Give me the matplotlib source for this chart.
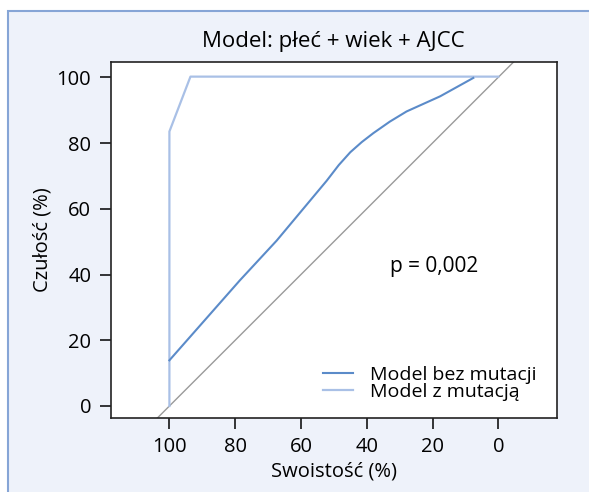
import matplotlib.pyplot as plt
from matplotlib.patches import Rectangle

plt.rcParams['font.family'] = ['Open Sans', 'DejaVu Sans']

# Krzywe ROC (swoistość %, czułość %)
swoistosc_bez = [100, 78.6, 67.4, 52.2, 48.5, 45.0, 41.5, 38.0, 33.0, 27.9, 17.7, 7.6]
czulosc_bez = [13.9, 38.2, 50.3, 68.5, 73.3, 77.2, 80.3, 83.0, 86.5, 89.6, 94.2, 99.8]

swoistosc_z = [100, 100, 93.6, 0]
czulosc_z = [0, 83.5, 100.2, 100.2]

xticks = [100, 80, 60, 40, 20, 0]
yticks = [0, 20, 40, 60, 80, 100]

kolor_bez = '#5b8bc9'
kolor_z = '#a9c0e6'

fig = plt.figure(figsize=(5.89, 4.92), dpi=100)
fig.patch.set_facecolor('white')

# ramka tła
tlo = Rectangle((7.5 / 589, -0.1), 2, (492 - 11) / 492 + 0.1,
                transform=fig.transFigure, facecolor='#eef2fa',
                edgecolor='#86a5d6', linewidth=1.5, zorder=-10)
fig.patches.append(tlo)

ax = fig.add_axes([110.7 / 589, (492 - 417.7) / 492, 446 / 589, 355.7 / 492])
ax.set_facecolor('white')

diag = [-30, 130]
ax.plot(diag, [100 - d for d in diag], color='#9a9a9a', lw=1.0, zorder=1)
ax.plot(swoistosc_z, czulosc_z, color=kolor_z, lw=1.6, label='Model z mutacją', zorder=2)
ax.plot(swoistosc_bez, czulosc_bez, color=kolor_bez, lw=1.5, label='Model bez mutacji', zorder=3)

ax.set_xlim(117.85, -17.76)
ax.set_ylim(-3.56, 104.65)
ax.set_xticks(xticks)
ax.set_yticks(yticks)
ax.tick_params(labelsize=14.5, length=8, width=1.1, pad=6, colors='black')

for s in ax.spines.values():
    s.set_linewidth(1.2)
    s.set_color('#222222')

ax.set_title('Model: płeć + wiek + AJCC', fontsize=16, pad=11)
ax.set_xlabel('Swoistość (%)', fontsize=14.5, labelpad=3)
ax.set_ylabel('Czułość (%)', fontsize=14.5, labelpad=3)

ax.text(32.9, 42.4, 'p = 0,002', fontsize=15, ha='left', va='center')

h, l = ax.get_legend_handles_labels()
ax.legend(h[::-1], l[::-1], loc='lower right', bbox_to_anchor=(0.985, 0.01),
          frameon=False, fontsize=14, handlelength=1.55, handletextpad=0.85,
          labelspacing=-0.05, borderaxespad=0.3)

fig.savefig('out.png', dpi=100)
